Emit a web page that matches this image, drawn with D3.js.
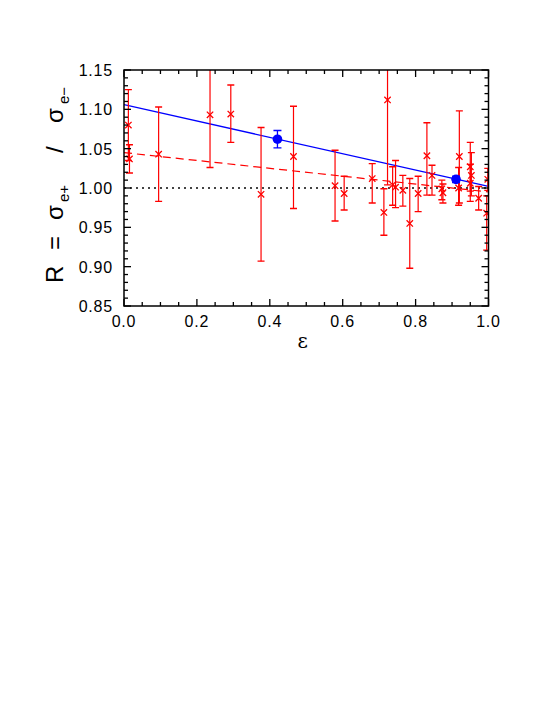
<!DOCTYPE html>
<html><head><meta charset="utf-8">
<script src="https://cdn.jsdelivr.net/npm/d3@7"></script>
<style>body{margin:0;background:#fff}svg{display:block}</style>
</head><body>
<script>
// Red data points (epsilon, R, upper error end, lower error end)
const epsRed = [0.012,0.015,0.095,0.236,0.293,0.376,0.465,0.579,0.604,0.681,0.713,0.723,0.737,0.745,0.765,0.784,0.807,0.831,0.845,0.872,0.875,0.920,0.918,0.950,0.953,0.950,0.973,0.998,0.995];
const rRed   = [1.080,1.037,1.043,1.093,1.094,0.992,1.040,1.003,0.993,1.012,0.969,1.112,1.004,1.001,0.997,0.955,0.993,1.041,1.016,0.999,0.994,1.040,1.000,1.027,1.016,1.006,0.987,1.011,0.968];
const hiRed  = [1.125,1.055,1.103,1.160,1.131,1.077,1.104,1.048,1.015,1.031,0.999,1.220,1.027,1.035,1.016,1.012,1.015,1.083,1.029,1.010,1.005,1.098,1.026,1.058,1.045,1.030,1.002,1.025,0.990];
const loRed  = [1.035,1.019,0.983,1.026,1.058,0.907,0.974,0.958,0.972,0.981,0.940,1.004,0.978,0.975,0.977,0.898,0.970,0.991,0.991,0.985,0.981,0.981,0.978,0.996,0.990,0.983,0.972,0.997,0.921];
// Blue points
const epsBlue = [0.421,0.911];
const rBlue   = [1.062,1.011];
const errBlue = [0.011,0.004];
// Fit lines
const blueLineEps = [0,1], blueLineR = [1.106,1.002];
const redLineEps  = [0,1], redLineR  = [1.045,0.995];
const refLineEps  = [0,1], refLineR  = [1.0,1.0];
// Ticks
const xTicks = [0,0.2,0.4,0.6,0.8,1.0];
const xTickLabels = ["0.0","0.2","0.4","0.6","0.8","1.0"];
const yTicks = [0.85,0.90,0.95,1.00,1.05,1.10,1.15];
const yTickLabels = ["0.85","0.90","0.95","1.00","1.05","1.10","1.15"];

const W=545,H=705;
const L=124,R=488.5,T=70,B=306;
const svg=d3.select("body").append("svg").attr("width",W).attr("height",H);
const x=d3.scaleLinear().domain([0,1]).range([L,R]);
const y=d3.scaleLinear().domain([0.85,1.15]).range([B,T]);

svg.append("clipPath").attr("id","clip").append("rect")
  .attr("x",L).attr("y",T).attr("width",R-L).attr("height",B-T);
const g=svg.append("g").attr("clip-path","url(#clip)");

const line=d3.line().x(d=>x(d[0])).y(d=>y(d[1]));
g.append("path").datum(d3.zip(refLineEps,refLineR)).attr("d",line)
  .attr("stroke","#444").attr("stroke-width",2).attr("stroke-dasharray","2,4").attr("fill","none");
g.append("path").datum(d3.zip(redLineEps,redLineR)).attr("d",line)
  .attr("stroke","#ff0000").attr("stroke-width",1.2).attr("stroke-dasharray","8,5").attr("fill","none");
g.append("path").datum(d3.zip(blueLineEps,blueLineR)).attr("d",line)
  .attr("stroke","#0000ff").attr("stroke-width",1.3).attr("fill","none");

// red error bars
const red="#ff0000";
epsRed.forEach((e,i)=>{
  const cx=x(e);
  g.append("line").attr("x1",cx).attr("x2",cx).attr("y1",y(hiRed[i])).attr("y2",y(loRed[i])).attr("stroke",red).attr("stroke-width",1.2);
  [hiRed[i],loRed[i]].forEach(v=>{
    g.append("line").attr("x1",cx-3.5).attr("x2",cx+3.5).attr("y1",y(v)).attr("y2",y(v)).attr("stroke",red).attr("stroke-width",1.4);
  });
  const cy=y(rRed[i]), s=3.2;
  g.append("path").attr("d",`M${cx-s},${cy-s}L${cx+s},${cy+s}M${cx-s},${cy+s}L${cx+s},${cy-s}`)
    .attr("stroke",red).attr("stroke-width",1.3).attr("fill","none");
});
// blue points
epsBlue.forEach((e,i)=>{
  const cx=x(e);
  const hi=rBlue[i]+errBlue[i], lo=rBlue[i]-errBlue[i];
  g.append("line").attr("x1",cx).attr("x2",cx).attr("y1",y(hi)).attr("y2",y(lo)).attr("stroke","#0000ff").attr("stroke-width",1.3);
  [hi,lo].forEach(v=>g.append("line").attr("x1",cx-4).attr("x2",cx+4).attr("y1",y(v)).attr("y2",y(v)).attr("stroke","#0000ff").attr("stroke-width",1.4));
  g.append("circle").attr("cx",cx).attr("cy",y(rBlue[i])).attr("r",4.8).attr("fill","#0000ff");
});

// frame
svg.append("rect").attr("x",L).attr("y",T).attr("width",R-L).attr("height",B-T)
  .attr("fill","none").attr("stroke","#000").attr("stroke-width",1.5);

// ticks inside
const tk=svg.append("g").attr("stroke","#000").attr("stroke-width",1.3);
d3.range(0,1.0001,0.05).forEach(v=>{
  const major=Math.abs(v*5-Math.round(v*5))<1e-6;
  const len=major?7:4;
  tk.append("line").attr("x1",x(v)).attr("x2",x(v)).attr("y1",B).attr("y2",B-len);
  tk.append("line").attr("x1",x(v)).attr("x2",x(v)).attr("y1",T).attr("y2",T+len);
});
d3.range(0.85,1.1501,0.01).forEach(v=>{
  const major=Math.abs(v*20-Math.round(v*20))<1e-6;
  const len=major?7:4;
  tk.append("line").attr("x1",L).attr("x2",L+len).attr("y1",y(v)).attr("y2",y(v));
  tk.append("line").attr("x1",R).attr("x2",R-len).attr("y1",y(v)).attr("y2",y(v));
});

const font="'Liberation Sans', Arial, sans-serif";
svg.append("g").selectAll("text").data(xTicks).join("text")
  .attr("x",d=>x(d)).attr("y",B+21).attr("text-anchor","middle")
  .attr("font-family",font).attr("font-size",16).attr("letter-spacing",0.8)
  .text((d,i)=>xTickLabels[i]);
svg.append("g").selectAll("text").data(yTicks).join("text")
  .attr("x",L-11).attr("y",d=>y(d)+6).attr("text-anchor","end")
  .attr("font-family",font).attr("font-size",16).attr("letter-spacing",0.8)
  .text((d,i)=>yTickLabels[i]);

svg.append("text").attr("x",x(0.49)).attr("y",348).attr("text-anchor","middle")
  .attr("font-family","'DejaVu Serif', serif").attr("font-size",20).text("ε");

// y-axis title, rotated; positions along the text direction (page y = 283 - x)
const yt=svg.append("g").attr("transform","translate(63,283) rotate(-90)")
  .attr("font-family",font);
const parts=[
  {t:"R",x:0,fs:24,dy:0},
  {t:"=",x:33,fs:24,dy:0},
  {t:"σ",x:63,fs:24,dy:0},
  {t:"e+",x:81,fs:15,dy:6},
  {t:"/",x:130,fs:24,dy:0},
  {t:"σ",x:160,fs:24,dy:0},
  {t:"e−",x:179,fs:15,dy:6}
];
yt.selectAll("text").data(parts).join("text")
  .attr("x",d=>d.x).attr("y",d=>d.dy).attr("font-size",d=>d.fs).text(d=>d.t);
</script>
</body></html>
